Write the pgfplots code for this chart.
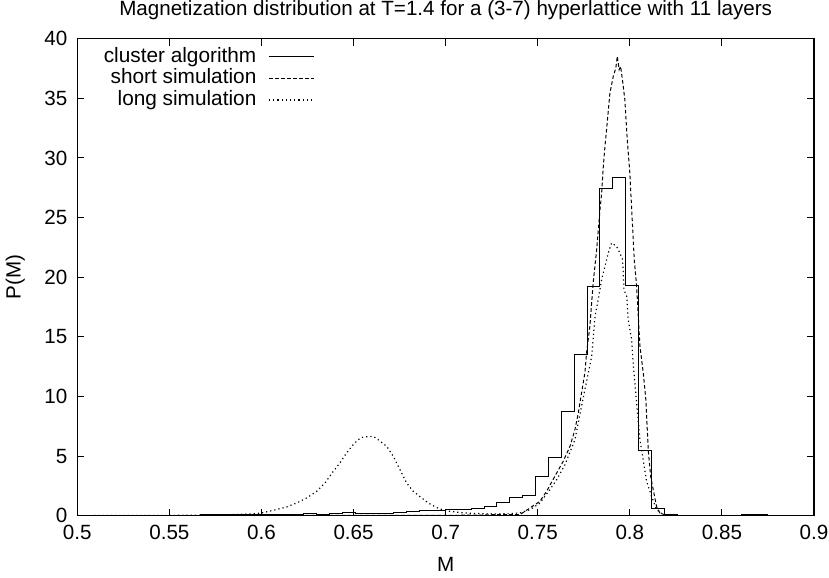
\documentclass[border=0pt]{standalone}
\usepackage{fontspec}
\setmainfont{Liberation Sans}
\usepackage{pgfplots}
\pgfplotsset{compat=1.18}
\begin{document}
\begin{tikzpicture}
\path[use as bounding box] (-38.65bp,-31bp) rectangle (375.9bp,257.85bp);
\begin{axis}[
  at={(0,0)}, anchor=south west,
  scale only axis, width=368.4bp, height=238.5bp,
  xmin=0.5, xmax=0.9, ymin=0, ymax=40,
  xtick={0.5,0.55,...,0.9}, ytick={0,5,...,40},
  xticklabels={0.5,0.55,0.6,0.65,0.7,0.75,0.8,0.85,0.9},
  /pgf/number format/assume math mode=true,
  font=\fontsize{10.3bp}{12bp}\selectfont,
  tick label style={font=\fontsize{10.3bp}{12bp}\selectfont},
  tick align=inside, tick pos=both,
  major tick length=3.5bp,
  axis line style={line width=0.6pt},
  every tick/.style={black, line width=0.5pt},
  xlabel={M}, ylabel={P(M)},
  xlabel style={at={(axis description cs:0.5,-0.1027)}, anchor=center},
  ylabel style={at={(axis description cs:-0.0841,0.5)}, anchor=center},
  yticklabel style={xshift=-1.5bp},
  xticklabel style={yshift=-1bp},
  every axis title shift=0pt,
  title={Magnetization distribution at T=1.4 for a (3-7) hyperlattice with 11 layers},
  title style={at={(axis description cs:0.5,1.0602)}, anchor=center, inner sep=0pt},
  legend cell align=right,
  legend plot pos=right,
  legend style={at={(0.3226,0.985)}, anchor=north east, draw=none, fill=none,
    inner sep=0pt, row sep=0pt, column sep=5.5bp,
    nodes={inner sep=0.5bp, text height=7.5bp, text depth=2.25bp},
    font=\fontsize{10.4bp}{12bp}\selectfont},
  legend image code/.code={\draw[#1] (0bp,0bp) -- (22.5bp,0bp);},
]
\addplot[const plot, black, line width=0.5pt] coordinates {
(0.4972,0.02) (0.5042,0.02) (0.5111,0.03) (0.5181,0.02) (0.5251,0.04) (0.5321,0.03)
(0.5391,0.02) (0.5461,0.03) (0.5531,0.05) (0.5601,0.04) (0.5671,0.06) (0.5741,0.08)
(0.5811,0.07) (0.5880,0.09) (0.5950,0.10) (0.6020,0.08) (0.6090,0.10) (0.6160,0.12)
(0.6230,0.14) (0.6300,0.13) (0.6370,0.16) (0.6440,0.28) (0.6509,0.22) (0.6579,0.20)
(0.6649,0.22) (0.6719,0.30) (0.6789,0.36) (0.6859,0.40) (0.6929,0.42) (0.6999,0.50)
(0.7069,0.55) (0.7139,0.60) (0.7209,0.80) (0.7278,1.12) (0.7348,1.48) (0.7418,1.68)
(0.7488,3.30) (0.7558,4.90) (0.7628,8.70) (0.7698,13.50) (0.7768,19.20) (0.7838,27.40)
(0.7907,28.40) (0.7977,19.30) (0.8047,5.50) (0.8117,0.59) (0.8187,0.08) (0.8257,0.02)
(0.8327,0) (0.8606,0.06) (0.8746,0) (0.9,0)
};
\addlegendentry{cluster algorithm}
\addplot[black, line width=0.5pt, dash pattern=on 1.8bp off 1.2bp] coordinates {
(0.50,0) (0.60,0.01) (0.70,0.02) (0.72,0.05) (0.73,0.10) (0.7403,0.08) (0.7458,0.65)
(0.7512,1.20) (0.7548,2.04) (0.7603,3.58) (0.7638,4.55) (0.7675,5.81) (0.7702,7.21)
(0.7720,8.61) (0.7738,10.29) (0.7756,11.97) (0.7765,13.64) (0.7783,15.87) (0.7801,19.51)
(0.7820,22.31) (0.7838,25.66) (0.7847,27.06) (0.7856,29.29) (0.7865,30.97) (0.7877,32.93)
(0.7892,35.45) (0.7910,36.84) (0.7924,37.54) (0.7932,38.52) (0.7942,37.40) (0.7950,37.68)
(0.7961,36.42) (0.7973,34.88) (0.7986,31.53) (0.8000,28.74) (0.8013,24.82) (0.8024,21.47)
(0.8037,19.23) (0.8055,14.20) (0.8073,11.97) (0.8087,9.73) (0.8100,5.53) (0.8113,3.30)
(0.8127,2.18) (0.8145,0.78) (0.8163,0.23) (0.8200,0) (0.9,0)
};
\addlegendentry{short simulation}
\addplot[black, line width=0.6pt, dash pattern=on 0.6bp off 1.5bp] coordinates {
(0.50,0) (0.55,0.02) (0.58,0.06) (0.595,0.15) (0.6001,0.23) (0.6064,0.44) (0.6137,0.73)
(0.6191,1.06) (0.6245,1.48) (0.6300,2.04) (0.6345,2.74) (0.6390,3.71) (0.6426,4.42)
(0.6462,5.26) (0.6498,5.95) (0.6525,6.37) (0.6551,6.58) (0.6589,6.65) (0.6611,6.62)
(0.6634,6.37) (0.6680,5.81) (0.6716,4.97) (0.6752,3.86) (0.6788,2.74) (0.6824,2.04)
(0.6870,1.48) (0.6906,1.06) (0.6942,0.75) (0.6969,0.56) (0.7023,0.36) (0.7096,0.23)
(0.7186,0.17) (0.7277,0.14) (0.7349,0.17) (0.7403,0.23) (0.7458,0.50) (0.7512,1.06)
(0.7566,2.18) (0.7603,3.02) (0.7648,4.28) (0.7702,6.37) (0.7745,9.73) (0.7793,13.36)
(0.7811,16.71) (0.7828,18.11) (0.7847,19.79) (0.7865,20.91) (0.7883,22.03) (0.7901,22.87)
(0.7928,22.58) (0.7946,22.03) (0.7961,21.47) (0.7968,18.95) (0.7983,18.39) (0.7991,16.44)
(0.8010,14.76) (0.8018,12.80) (0.8040,8.89) (0.8055,6.37) (0.8091,2.88) (0.8118,1.62)
(0.8146,0.50) (0.8181,0.08) (0.8250,0) (0.9,0)
};
\addlegendentry{long simulation}
\end{axis}
\end{tikzpicture}
\end{document}
